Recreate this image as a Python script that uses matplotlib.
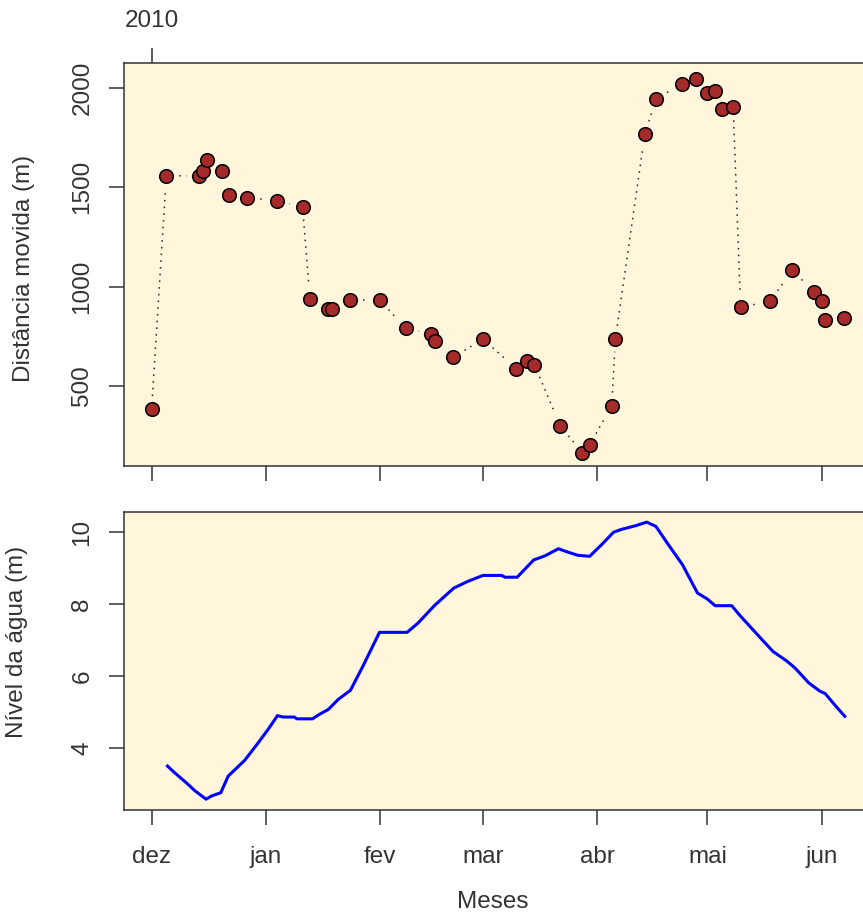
import numpy as np
import matplotlib
matplotlib.use('Agg')
import matplotlib.pyplot as plt

plt.rcParams['font.family'] = ['Liberation Sans', 'DejaVu Sans']

# days counted from 1 Dec 2009
month_days = [0, 31, 62, 90, 121, 151, 182]
month_labels = ['dez', 'jan', 'fev', 'mar', 'abr', 'mai', 'jun']

# distance moved (m)
dist_days = [0, 4, 13, 14, 15, 19, 21, 26, 34, 41, 43, 48, 49, 54, 62, 69, 76, 77,
             82, 90, 99, 102, 104, 111, 117, 119, 125, 126, 134, 137, 144, 148,
             151, 153, 155, 158, 160, 168, 174, 180, 182, 183, 188]
dist_m = [384, 1559, 1557, 1583, 1640, 1583, 1463, 1448, 1433, 1403, 940, 886, 886,
          933, 933, 790, 762, 728, 644, 737, 587, 627, 606, 300, 164, 203, 401, 738,
          1770, 1943, 2022, 2044, 1974, 1984, 1896, 1903, 896, 926, 1082, 975, 926,
          831, 841]

# water level (m)
level_days = [4.3, 6.3, 9.6, 11.8, 14.8, 16.3, 18.8, 20.8, 25.3, 29.0, 31.6, 34.2,
              35.7, 38.7, 39.5, 43.7, 45.5, 48.0, 50.7, 54.0, 57.4, 61.9, 69.4, 72.4,
              76.8, 82.1, 85.8, 90.0, 95.1, 96.0, 99.3, 103.8, 106.8, 110.5, 112.7,
              115.7, 119.0, 122.5, 125.5, 127.7, 131.5, 134.5, 137.0, 140.4, 144.2,
              148.3, 150.9, 153.1, 157.6, 159.9, 165.8, 168.8, 172.6, 174.8, 178.5,
              181.5, 183.0, 185.3, 188.3]
level_m = [3.51, 3.32, 3.03, 2.82, 2.59, 2.68, 2.77, 3.23, 3.67, 4.16, 4.52, 4.91,
           4.87, 4.87, 4.82, 4.82, 4.94, 5.08, 5.36, 5.61, 6.28, 7.22, 7.22, 7.48,
           7.96, 8.45, 8.63, 8.80, 8.80, 8.75, 8.75, 9.23, 9.34, 9.54, 9.46, 9.36,
           9.33, 9.68, 10.0, 10.08, 10.18, 10.28, 10.16, 9.65, 9.10, 8.31, 8.15,
           7.96, 7.96, 7.68, 7.02, 6.69, 6.42, 6.23, 5.82, 5.59, 5.52, 5.24, 4.89]

W, H = 863, 917
bg = '#FFF6DC'
ink = '#333333'

fig = plt.figure(figsize=(W / 100, H / 100), dpi=100)
left, right = 124 / W, 872 / W
ax1 = fig.add_axes([left, 1 - 466 / H, right - left, (466 - 63) / H])
ax2 = fig.add_axes([left, 1 - 810 / H, right - left, (810 - 512) / H])

for ax in (ax1, ax2):
    ax.set_facecolor(bg)
    ax.set_xlim(-7.5, 195.7)
    ax.set_xticks(month_days)
    for s in ax.spines.values():
        s.set_linewidth(1.1)
        s.set_color(ink)
    ax.tick_params(direction='out', length=11, width=1.1, color=ink,
                   labelsize=17.5, labelcolor=ink)
    ax.tick_params(axis='y', pad=11, labelrotation=90)
    ax.tick_params(axis='x', pad=15)

ax1.set_ylim(97, 2126)
ax1.set_yticks([500, 1000, 1500, 2000])
ax1.set_xticklabels([])
for lab in ax1.get_yticklabels():
    lab.set_verticalalignment('center')

# dotted connecting line with gaps around points (like R type="b")
gap = 13
pts = ax1.transData.transform(np.column_stack([dist_days, dist_m]))
inv = ax1.transData.inverted()
for p0, p1 in zip(pts[:-1], pts[1:]):
    v = p1 - p0
    L = np.hypot(v[0], v[1])
    if L <= 2 * gap:
        continue
    u = v / L
    seg = inv.transform([p0 + u * gap, p1 - u * gap])
    ax1.plot(seg[:, 0], seg[:, 1], color='#222222', lw=1.1,
             linestyle=(0, (1, 3.4)), zorder=2)
ax1.plot(dist_days, dist_m, linestyle='none', marker='o', ms=9.8,
         mfc='#A52A2A', mec='black', mew=1.1, zorder=3)

top = ax1.secondary_xaxis('top')
top.set_xticks([0], ['2010'])
top.tick_params(direction='out', length=11, width=1.1, color=ink,
                labelsize=17.5, labelcolor=ink, pad=11)
top.spines['top'].set_visible(False)

ax2.plot(level_days, level_m, color='#0000FF', lw=2.2, zorder=3)
ax2.set_ylim(2.29, 10.56)
ax2.set_yticks([4, 6, 8, 10])
ax2.set_xticklabels(month_labels)
for lab in ax2.get_yticklabels():
    lab.set_verticalalignment('center')

fig.text(24 / W, 1 - 268 / H, 'Distância movida (m)', rotation=90,
         ha='center', va='center', fontsize=17.5, color=ink)
fig.text(17 / W, 1 - 642 / H, 'Nível da água (m)', rotation=90,
         ha='center', va='center', fontsize=17.5, color=ink)
fig.text(493 / W, 1 - 908 / H, 'Meses', ha='center', va='baseline',
         fontsize=17.5, color=ink)

fig.savefig('out.png', dpi=100, facecolor='white')
